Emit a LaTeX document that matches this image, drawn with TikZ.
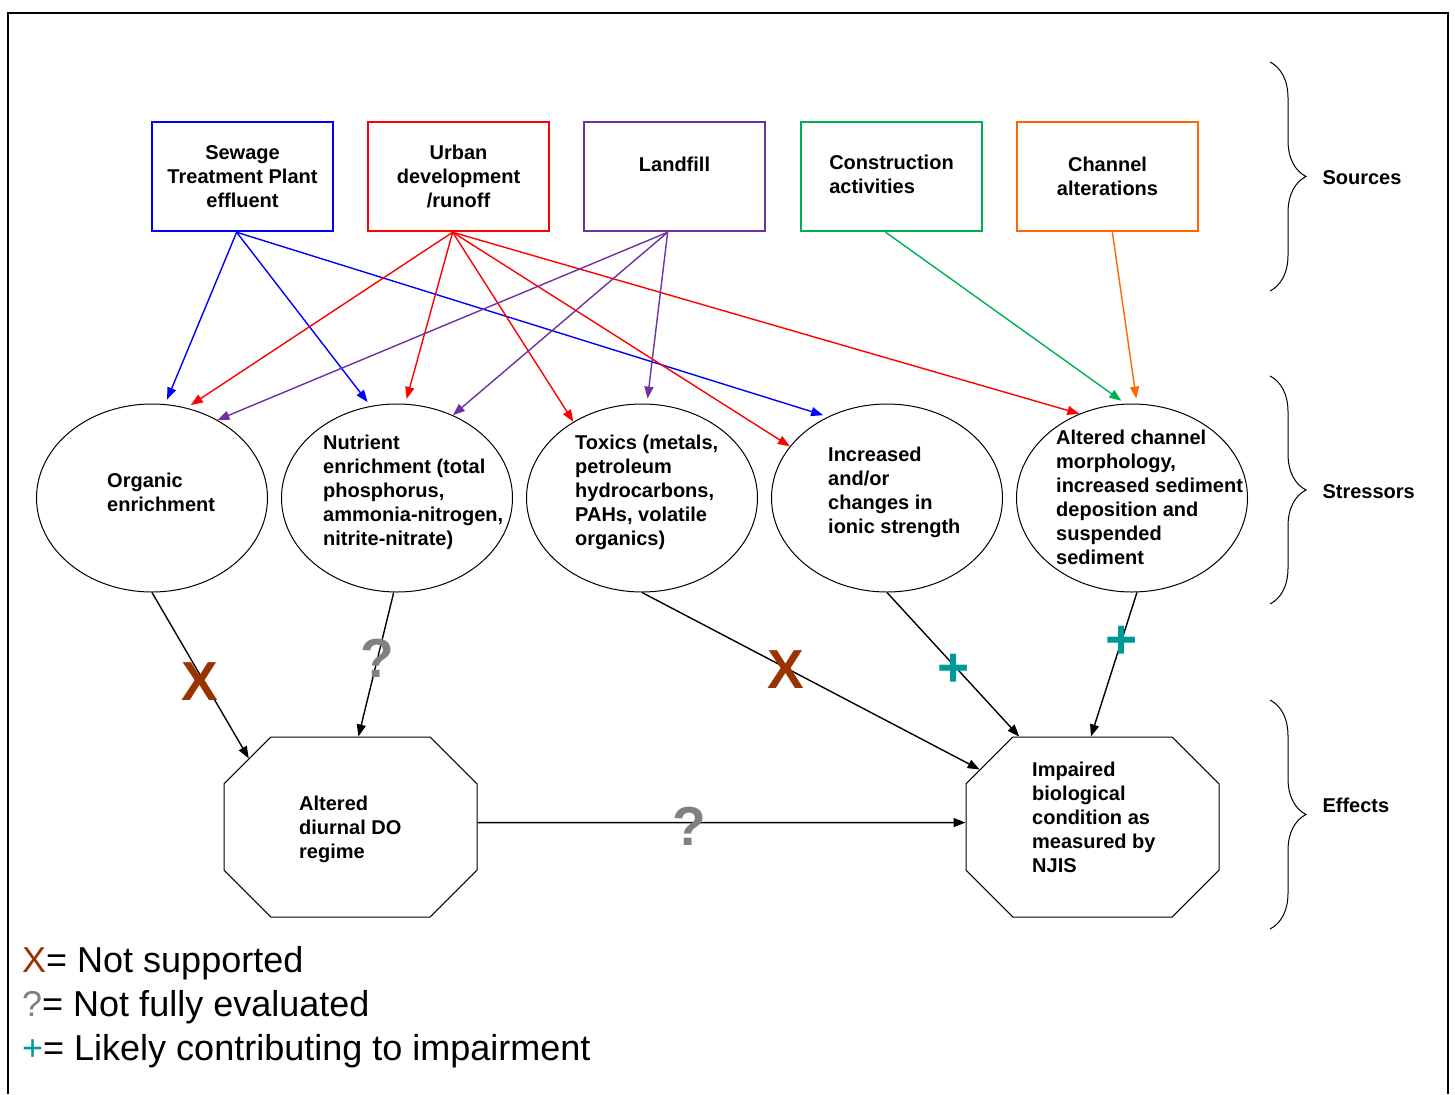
\documentclass[tikz,border=0pt]{standalone}
\usepackage{fontspec}
\setmainfont{Liberation Sans}
\usetikzlibrary{arrows.meta,shapes.geometric,shapes.misc,decorations.pathreplacing}
\definecolor{srcblue}{RGB}{0,0,255}
\definecolor{srcred}{RGB}{255,0,0}
\definecolor{srcpurple}{RGB}{112,48,160}
\definecolor{srcgreen}{RGB}{0,176,80}
\definecolor{srcorange}{RGB}{255,102,0}
\definecolor{notsup}{RGB}{153,51,0}
\definecolor{noteval}{RGB}{128,128,128}
\definecolor{likely}{RGB}{0,153,153}
\newcommand{\boxfont}{\bfseries\fontsize{20}{24}\selectfont}
\tikzset{
  source/.style={draw,line width=2.5pt,minimum width=181pt,minimum height=109pt,align=center,font=\boxfont},
  stressor/.style={draw,ellipse,line width=1pt,minimum width=231pt,minimum height=188pt},
  stext/.style={anchor=west,align=left,font=\boxfont,inner sep=0pt},
  effect/.style={draw,chamfered rectangle,chamfered rectangle xsep=53pt,line width=1pt,
    text width=120pt,text height=40pt,text depth=40pt,
    minimum width=253pt,minimum height=180pt},
  link/.style={line width=1.4pt,-{Triangle[length=12pt,width=9pt]}},
  gap/.style={shorten >=5pt},
  verdict/.style={font=\bfseries\fontsize{55}{60}\selectfont,inner sep=0pt},
  tier/.style={decorate,decoration={brace,amplitude=36pt},line width=1pt},
  tierlbl/.style={anchor=west,font=\boxfont},
  legend/.style={anchor=base west,font=\fontsize{36}{40}\selectfont,inner sep=0pt}
}
\begin{document}
\begin{tikzpicture}[x=1pt,y=-1pt]
  \useasboundingbox (0,0) rectangle (1455,1094);
  % frame
  \draw[line width=1.5pt] (8,1094) -- (8,13) -- (1448,13) -- (1448,1094);
  % sources
  \node[source,draw=srcblue] (stp) at (242.5,176.5) {Sewage\\Treatment Plant\\effluent};
  \node[source,draw=srcred] (urb) at (458.5,176.5) {Urban\\development\\/runoff};
  \node[source,draw=srcpurple] (lnd) at (674.5,176.5) {Landfill\\\mbox{}};
  \node[source,draw=srcgreen] (con) at (891.5,176.5) {\begin{tabular}{@{}l@{}}Construction\\activities\end{tabular}};
  \node[source,draw=srcorange] (chl) at (1107.5,176.5) {Channel\\alterations};
  % stressors
  \node[stressor] (org) at (152,498) {};
  \node[stressor] (nut) at (397,498) {};
  \node[stressor] (tox) at (642,498) {};
  \node[stressor] (ion) at (887,498) {};
  \node[stressor] (chan) at (1132,498) {};
  \node[stext] (org-txt) at (107,492) {Organic\\enrichment};
  \node[stext] (nut-txt) at (323,492) {Nutrient\\enrichment (total\\phosphorus,\\ammonia-nitrogen,\\nitrite-nitrate)};
  \node[stext] (tox-txt) at (575,492) {Toxics (metals,\\petroleum\\hydrocarbons,\\PAHs, volatile\\organics)};
  \node[stext] (ion-txt) at (828,492) {Increased\\and/or\\changes in\\ionic strength};
  \node[stext] (chan-txt) at (1056,497) {Altered channel\\morphology,\\increased sediment\\deposition and\\suspended\\sediment};
  % effects
  \node[effect] (do) at (350.5,827) {};
  \node[effect] (imp) at (1092.5,827) {};
  \node[stext] (do-txt) at (299,829) {Altered\\diurnal DO\\regime};
  \node[stext] (imp-txt) at (1032,817) {Impaired\\biological\\condition as\\measured by\\NJIS};
  % source arrows
  \draw[link,gap,srcblue] (stp.264.2) -- (org.82.6);
  \draw[link,gap,srcblue] (stp.264.2) -- (nut.106);
  \draw[link,gap,srcblue] (stp.264.2) -- (ion.126);
  \draw[link,gap,srcred] (urb.264.2) -- (org.69);
  \draw[link,gap,srcred] (urb.264.2) -- (nut.85.5);
  \draw[link,srcred] (urb.264.2) -- (tox.132.3);
  \draw[link,srcred] (urb.264.2) -- (ion.152.3);
  \draw[link,srcred] (urb.264.2) -- (chan.122.5);
  \draw[link,srcpurple] (lnd.263.2) -- (org.50.4);
  \draw[link,srcpurple] (lnd.263.2) -- (nut.56.9);
  \draw[link,gap,srcpurple] (lnd.263.2) -- (tox.87.7);
  \draw[link,gap,srcgreen] (con.264.2) -- (chan.94.6);
  \draw[link,gap,srcorange] (chl.275.8) -- (chan.87.7);
  % effect arrows
  \draw[link] (org.south) -- (do.146.8);
  \draw[link] (nut.268) -- (do.85.9);
  \draw[link] (tox.south) -- (imp.153.1);
  \draw[link] (ion.south) -- (imp.129.7);
  \draw[link] (chan.273) -- (imp.91.6);
  \draw[link] (do.2) -- (imp.178);
  % verdicts
  \node[verdict,text=notsup] (x1) at (200,682) {X};
  \node[verdict,text=noteval] (q1) at (377,658) {?};
  \node[verdict,text=notsup] (x2) at (786,670) {X};
  \node[verdict,text=likely] (p1) at (954,670) {+};
  \node[verdict,text=likely] (p2) at (1122,642) {+};
  \node[verdict,text=noteval] (q2) at (689,826) {?};
  % tiers
  \draw[tier] (1270,62) -- (1270,291);
  \draw[tier] (1270,376) -- (1270,604);
  \draw[tier] (1270,700) -- (1270,929);
  \node[tierlbl] (src-lbl) at (1319,178) {Sources};
  \node[tierlbl] (str-lbl) at (1319,492) {Stressors};
  \node[tierlbl] (eff-lbl) at (1319,805) {Effects};
  % legend
  \node[legend] (leg1) at (22,972) {\textcolor{notsup}{X}= Not supported};
  \node[legend] (leg2) at (22,1016) {\textcolor{noteval}{?}= Not fully evaluated};
  \node[legend] (leg3) at (22,1060) {\textcolor{likely}{+}= Likely contributing to impairment};
\end{tikzpicture}
\end{document}
